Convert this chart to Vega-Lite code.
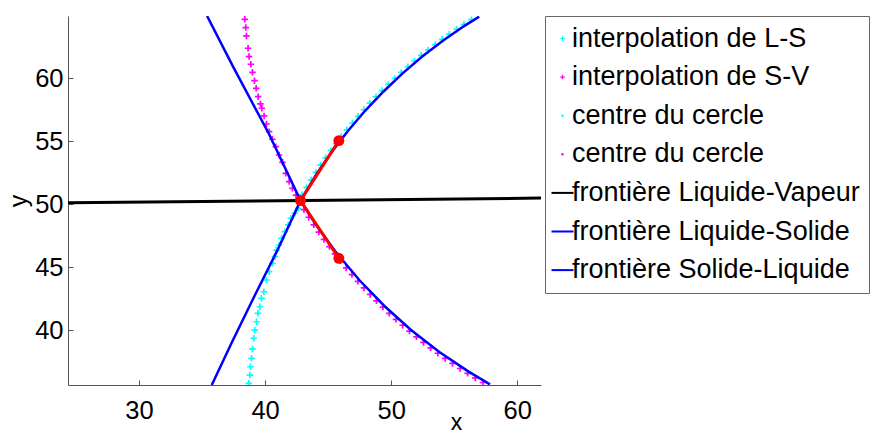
{
  "$schema": "https://vega.github.io/schema/vega-lite/v6.json",
  "width": 473,
  "height": 369,
  "autosize": {"type": "none"},
  "padding": {"left": 68, "top": 16, "right": 339, "bottom": 49},
  "background": "white",
  "config": {"view": {"stroke": null}, "font": "Liberation Sans"},
  "datasets": {
    "pts": [
      {"s": "LS", "x": 38.71, "y": 35.79}, {"s": "LS", "x": 38.79, "y": 36.45}, {"s": "LS", "x": 38.84, "y": 37.11}, {"s": "LS", "x": 38.92, "y": 37.78},
      {"s": "LS", "x": 39.0, "y": 38.52}, {"s": "LS", "x": 39.1, "y": 39.37}, {"s": "LS", "x": 39.18, "y": 40.02}, {"s": "LS", "x": 39.32, "y": 40.68},
      {"s": "LS", "x": 39.44, "y": 41.35}, {"s": "LS", "x": 39.58, "y": 41.87}, {"s": "LS", "x": 39.71, "y": 42.54}, {"s": "LS", "x": 39.9, "y": 43.06},
      {"s": "LS", "x": 40.11, "y": 43.99}, {"s": "LS", "x": 40.32, "y": 44.65}, {"s": "LS", "x": 40.59, "y": 45.32}, {"s": "LS", "x": 40.77, "y": 45.84},
      {"s": "LS", "x": 40.9, "y": 46.37}, {"s": "LS", "x": 41.11, "y": 46.77}, {"s": "LS", "x": 41.3, "y": 47.3}, {"s": "LS", "x": 41.56, "y": 47.83},
      {"s": "LS", "x": 41.83, "y": 48.36}, {"s": "LS", "x": 42.04, "y": 48.89}, {"s": "LS", "x": 42.36, "y": 49.29}, {"s": "LS", "x": 42.62, "y": 49.68},
      {"s": "LS", "x": 42.78, "y": 50.2}, {"s": "LS", "x": 42.93, "y": 50.75}, {"s": "LS", "x": 43.29, "y": 51.34}, {"s": "LS", "x": 43.65, "y": 51.94},
      {"s": "LS", "x": 44.02, "y": 52.53}, {"s": "LS", "x": 44.41, "y": 53.11}, {"s": "LS", "x": 44.8, "y": 53.69}, {"s": "LS", "x": 45.21, "y": 54.25},
      {"s": "LS", "x": 45.63, "y": 54.81}, {"s": "LS", "x": 46.05, "y": 55.37}, {"s": "LS", "x": 46.48, "y": 55.91}, {"s": "LS", "x": 46.93, "y": 56.45},
      {"s": "LS", "x": 47.38, "y": 56.98}, {"s": "LS", "x": 47.84, "y": 57.5}, {"s": "LS", "x": 48.31, "y": 58.02}, {"s": "LS", "x": 48.79, "y": 58.52},
      {"s": "LS", "x": 49.28, "y": 59.02}, {"s": "LS", "x": 49.78, "y": 59.51}, {"s": "LS", "x": 50.28, "y": 59.99}, {"s": "LS", "x": 50.8, "y": 60.46},
      {"s": "LS", "x": 51.32, "y": 60.92}, {"s": "LS", "x": 51.85, "y": 61.37}, {"s": "LS", "x": 52.39, "y": 61.82}, {"s": "LS", "x": 52.93, "y": 62.25},
      {"s": "LS", "x": 53.49, "y": 62.67}, {"s": "LS", "x": 54.05, "y": 63.09}, {"s": "LS", "x": 54.61, "y": 63.5}, {"s": "LS", "x": 55.19, "y": 63.89},
      {"s": "LS", "x": 55.77, "y": 64.28}, {"s": "LS", "x": 56.36, "y": 64.65},
      {"s": "SV", "x": 38.39, "y": 64.68}, {"s": "SV", "x": 38.47, "y": 64.02}, {"s": "SV", "x": 38.52, "y": 63.36}, {"s": "SV", "x": 38.65, "y": 62.38},
      {"s": "SV", "x": 38.73, "y": 61.72}, {"s": "SV", "x": 38.87, "y": 61.11}, {"s": "SV", "x": 39.0, "y": 60.47}, {"s": "SV", "x": 39.16, "y": 59.81},
      {"s": "SV", "x": 39.29, "y": 59.2}, {"s": "SV", "x": 39.45, "y": 58.54}, {"s": "SV", "x": 39.63, "y": 57.96}, {"s": "SV", "x": 39.74, "y": 57.62},
      {"s": "SV", "x": 39.92, "y": 57.01}, {"s": "SV", "x": 40.11, "y": 56.37}, {"s": "SV", "x": 40.32, "y": 55.76}, {"s": "SV", "x": 40.58, "y": 55.16},
      {"s": "SV", "x": 40.85, "y": 54.57}, {"s": "SV", "x": 41.11, "y": 53.91}, {"s": "SV", "x": 41.38, "y": 53.33}, {"s": "SV", "x": 41.64, "y": 52.46},
      {"s": "SV", "x": 41.91, "y": 51.8}, {"s": "SV", "x": 42.17, "y": 51.27}, {"s": "SV", "x": 42.45, "y": 50.72}, {"s": "SV", "x": 42.71, "y": 50.18},
      {"s": "SV", "x": 43.08, "y": 49.57}, {"s": "SV", "x": 43.46, "y": 48.97}, {"s": "SV", "x": 43.86, "y": 48.37}, {"s": "SV", "x": 44.26, "y": 47.79},
      {"s": "SV", "x": 44.67, "y": 47.21}, {"s": "SV", "x": 45.1, "y": 46.64}, {"s": "SV", "x": 45.53, "y": 46.07}, {"s": "SV", "x": 45.97, "y": 45.52},
      {"s": "SV", "x": 46.43, "y": 44.96}, {"s": "SV", "x": 46.89, "y": 44.42}, {"s": "SV", "x": 47.36, "y": 43.89}, {"s": "SV", "x": 47.84, "y": 43.36},
      {"s": "SV", "x": 48.33, "y": 42.85}, {"s": "SV", "x": 48.83, "y": 42.34}, {"s": "SV", "x": 49.34, "y": 41.84}, {"s": "SV", "x": 49.85, "y": 41.35},
      {"s": "SV", "x": 50.38, "y": 40.87}, {"s": "SV", "x": 50.91, "y": 40.4}, {"s": "SV", "x": 51.45, "y": 39.94}, {"s": "SV", "x": 52.0, "y": 39.48},
      {"s": "SV", "x": 52.56, "y": 39.04}, {"s": "SV", "x": 53.13, "y": 38.61}, {"s": "SV", "x": 53.7, "y": 38.18}, {"s": "SV", "x": 54.28, "y": 37.77},
      {"s": "SV", "x": 54.86, "y": 37.37}, {"s": "SV", "x": 55.46, "y": 36.97}, {"s": "SV", "x": 56.06, "y": 36.59}, {"s": "SV", "x": 56.67, "y": 36.22},
      {"s": "SV", "x": 57.28, "y": 35.86},
      {"s": "LV", "i": 0, "x": 24.37, "y": 50.12}, {"s": "LV", "i": 1, "x": 61.88, "y": 50.49},
      {"s": "LSo", "i": 0, "x": 35.77, "y": 35.66}, {"s": "LSo", "i": 1, "x": 37.33, "y": 38.97}, {"s": "LSo", "i": 2, "x": 39.1, "y": 42.6},
      {"s": "LSo", "i": 3, "x": 40.95, "y": 46.3}, {"s": "LSo", "i": 4, "x": 42.81, "y": 50.29}, {"s": "LSo", "i": 5, "x": 44.12, "y": 52.46},
      {"s": "LSo", "i": 6, "x": 45.31, "y": 54.18}, {"s": "LSo", "i": 7, "x": 46.58, "y": 55.83}, {"s": "LSo", "i": 8, "x": 47.93, "y": 57.42},
      {"s": "LSo", "i": 9, "x": 49.37, "y": 58.93}, {"s": "LSo", "i": 10, "x": 50.88, "y": 60.37}, {"s": "LSo", "i": 11, "x": 52.46, "y": 61.72},
      {"s": "LSo", "i": 12, "x": 54.12, "y": 62.99}, {"s": "LSo", "i": 13, "x": 55.84, "y": 64.18}, {"s": "LSo", "i": 14, "x": 56.98, "y": 64.89},
      {"s": "SL", "i": 0, "x": 35.4, "y": 64.94}, {"s": "SL", "i": 1, "x": 37.46, "y": 60.92}, {"s": "SL", "i": 2, "x": 40.3, "y": 55.6},
      {"s": "SL", "i": 3, "x": 42.81, "y": 50.29}, {"s": "SL", "i": 4, "x": 43.98, "y": 48.46}, {"s": "SL", "i": 5, "x": 45.65, "y": 46.16},
      {"s": "SL", "i": 6, "x": 47.47, "y": 43.99}, {"s": "SL", "i": 7, "x": 49.44, "y": 41.95}, {"s": "SL", "i": 8, "x": 51.55, "y": 40.05},
      {"s": "SL", "i": 9, "x": 53.79, "y": 38.3}, {"s": "SL", "i": 10, "x": 56.14, "y": 36.72}, {"s": "SL", "i": 11, "x": 57.83, "y": 35.71}
    ],
    "red": [
      {"seg": "a", "x": 42.81, "y": 50.29}, {"seg": "a", "x": 45.85, "y": 55.05},
      {"seg": "b", "x": 42.81, "y": 50.29}, {"seg": "b", "x": 45.85, "y": 45.71}
    ],
    "dots": [
      {"x": 42.81, "y": 50.29}, {"x": 45.85, "y": 55.05}, {"x": 45.85, "y": 45.71}
    ]
  },
  "encoding": {
    "x": {
      "field": "x", "type": "quantitative",
      "scale": {"domain": [24.37, 61.88], "nice": false, "zero": false},
      "axis": {
        "title": "x", "values": [30, 40, 50, 60], "grid": false,
        "domainColor": "#555555", "tickColor": "#555555", "tickSize": -5, "labelPadding": 18,
        "labelFont": "Liberation Sans", "labelFontSize": 25.5, "labelColor": "#000000", "labelFlush": false, "labelOverlap": false,
        "titleFont": "Liberation Sans", "titleFontSize": 23, "titleFontWeight": "normal", "titleColor": "#000000",
        "titleX": 388, "titleY": 44, "titleBaseline": "alphabetic", "titleAlign": "center"
      }
    },
    "y": {
      "field": "y", "type": "quantitative",
      "scale": {"domain": [35.66, 64.94], "nice": false, "zero": false},
      "axis": {
        "title": "y", "values": [40, 45, 50, 55, 60], "grid": false,
        "domainColor": "#555555", "tickColor": "#555555", "tickSize": -5, "labelPadding": 10,
        "labelFont": "Liberation Sans", "labelFontSize": 25.5, "labelColor": "#000000", "labelFlush": false, "labelOverlap": false,
        "titleFont": "Liberation Sans", "titleFontSize": 25, "titleFontWeight": "normal", "titleColor": "#000000",
        "titleX": -49.5, "titleY": 184.5, "titleAngle": -90, "titleBaseline": "middle", "titleAlign": "center"
      }
    },
    "color": {
      "field": "s", "type": "nominal",
      "scale": {
        "domain": ["LS", "SV", "C1", "C2", "LV", "LSo", "SL"],
        "range": ["#00ffff", "#ff00ff", "#00ffff", "#ff00ff", "#000000", "#0000ff", "#0000ff"]
      },
      "legend": {
        "title": null, "orient": "none", "legendX": 477, "legendY": 0, "direction": "vertical",
        "padding": 9, "rowPadding": 10.6, "strokeColor": "#666666", "fillColor": "#ffffff",
        "symbolSize": 484, "symbolOffset": -5, "labelOffset": -4, "labelLimit": 600,
        "labelFont": "Liberation Sans", "labelFontSize": 27, "labelColor": "#000000",
        "labelExpr": "datum.value=='LS' ? 'interpolation de L-S' : datum.value=='SV' ? 'interpolation de S-V' : (datum.value=='C1' || datum.value=='C2') ? 'centre du cercle' : datum.value=='LV' ? 'frontière Liquide-Vapeur' : datum.value=='LSo' ? 'frontière Liquide-Solide' : 'frontière Solide-Liquide'",
        "encode": {
          "symbols": {
            "update": {
              "shape": {"signal": "indexof(['LV','LSo','SL'], datum.value) >= 0 ? 'stroke' : (indexof(['LS','SV'], datum.value) >= 0 ? 'M-1,0H1M0,-1V1' : 'circle')"},
              "size": {"signal": "indexof(['LV','LSo','SL'], datum.value) >= 0 ? 484 : (indexof(['LS','SV'], datum.value) >= 0 ? 20 : 6)"},
              "stroke": {"signal": "datum.value=='LV' ? '#000000' : (indexof(['LS','C1'], datum.value) >= 0 ? '#00ffff' : (indexof(['SV','C2'], datum.value) >= 0 ? '#ff00ff' : '#0000ff'))"},
              "fill": {"signal": "datum.value=='C1' ? '#00ffff' : (datum.value=='C2' ? '#ff00ff' : 'transparent')"},
              "strokeWidth": {"signal": "indexof(['LV','LSo','SL'], datum.value) >= 0 ? 2 : (indexof(['C1','C2'], datum.value) >= 0 ? 0 : 1.2)"},
              "opacity": {"value": 1}
            }
          }
        }
      }
    }
  },
  "layer": [
    {
      "data": {"name": "pts"},
      "transform": [{"filter": {"field": "s", "oneOf": ["LS", "SV"]}}],
      "mark": {"type": "point", "shape": "M-1,0H1M0,-1V1", "filled": false, "size": 42, "strokeWidth": 1.7, "opacity": 1, "clip": true}
    },
    {
      "data": {"name": "pts"},
      "transform": [{"filter": {"field": "s", "equal": "LV"}}],
      "mark": {"type": "line", "strokeWidth": 3, "clip": true},
      "encoding": {
        "order": {"field": "i", "type": "quantitative"}
      }
    },
    {
      "data": {"name": "pts"},
      "transform": [{"filter": {"field": "s", "oneOf": ["LSo", "SL"]}}],
      "mark": {"type": "line", "strokeWidth": 2.5, "clip": true},
      "encoding": {
        "order": {"field": "i", "type": "quantitative"}
      }
    },
    {
      "data": {"name": "red"},
      "mark": {"type": "line", "strokeWidth": 3, "clip": true},
      "encoding": {"color": {"value": "#ff0000"}, "detail": {"field": "seg", "type": "nominal"}}
    },
    {
      "data": {"name": "dots"},
      "mark": {"type": "point", "shape": "circle", "filled": true, "size": 120, "opacity": 1},
      "encoding": {"color": {"value": "#ff0000"}}
    }
  ]
}
